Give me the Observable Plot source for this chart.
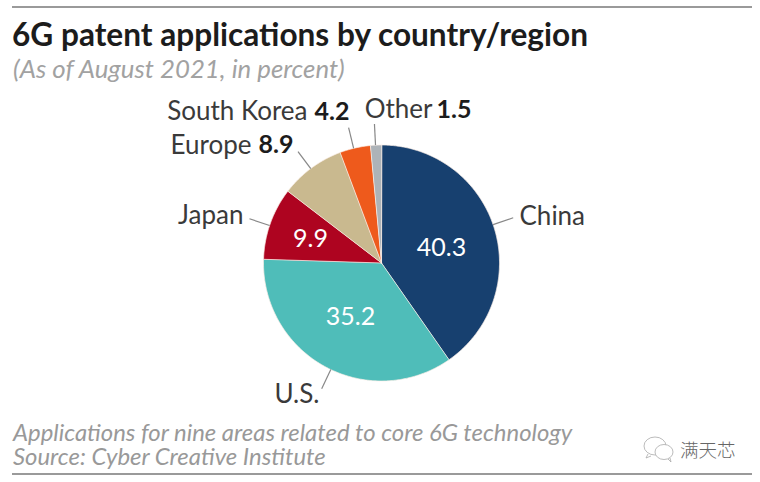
<!DOCTYPE html>
<html>
<head>
<meta charset="utf-8">
<script src="https://cdn.jsdelivr.net/npm/d3@7"></script>
<script src="https://cdn.jsdelivr.net/npm/@observablehq/plot@0.6"></script>
<style>
html,body{margin:0;padding:0;background:#fff;}
body{width:760px;height:482px;position:relative;overflow:hidden;font-family:Lato,sans-serif;}
.rule{position:absolute;left:12px;width:740px;height:2px;background:#9a9a9a;}
#title{position:absolute;left:12px;top:16px;font-size:31.6px;font-weight:700;color:#1c1c1c;white-space:nowrap;line-height:36px;}
#sub{position:absolute;left:13px;top:54px;font-size:25.8px;font-style:italic;color:#a2a2a2;white-space:nowrap;line-height:28px;}
#chart{position:absolute;left:0;top:90px;}
#note{position:absolute;left:13px;top:420px;font-size:23.9px;font-style:italic;color:#999;line-height:24px;white-space:nowrap;}
#mark{position:absolute;left:640px;top:434px;display:flex;align-items:center;gap:0;color:#666;font:300 18.5px "Noto Sans CJK SC",sans-serif;}
</style>
</head>
<body>
<div class="rule" style="top:6px"></div>
<div id="title">6G patent applications by country/region</div>
<div id="sub">(As of August 2021, in percent)</div>
<div id="chart"></div>
<div id="note">Applications for nine areas related to core 6G technology<br>Source: Cyber Creative Institute</div>
<div id="mark">
<svg width="40" height="30" viewBox="0 0 40 30" fill="none" stroke="#aaa" stroke-width="0.8"><ellipse cx="15" cy="12" rx="11" ry="9"/><ellipse cx="24" cy="18" rx="9" ry="7.5" fill="#fff"/><path d="M8 20l-2 4 5-2M28 25l3 3-1-4"/></svg>
<span>满天芯</span>
</div>
<div class="rule" style="top:473px;height:1.5px"></div>
<script>
const names = ["China", "U.S.", "Japan", "Europe", "South Korea", "Other"];
const shares = [40.3, 35.2, 9.9, 8.9, 4.2, 1.5];
const colors = ["#17406f", "#4fbdb9", "#ae0420", "#c9b98f", "#ee5a1c", "#adb3b8"];

// layout of the annotations: where each leader leaves the pie, in degrees from the slice's middle
const leaderShift = [-1.5, -3, -1.1, -0.3, -0.7, -0.2];
const leaderReach = 1.18;

const W = 760, H = 325, R = 118, cx = 381, cy = 172.5;

const pie = d3.pie().value(d => d).sort(null)(shares);
const polar = (a, r) => ({x: Math.sin(a) * r, y: Math.cos(a) * r});

const wedges = names.flatMap((name, i) => {
  const {startAngle: a0, endAngle: a1} = pie[i];
  const n = Math.ceil((a1 - a0) / 0.01);
  return [{name, ...polar(0, 0)}, ...d3.range(n + 1).map(k => ({name, ...polar(a0 + (a1 - a0) * k / n, 1)}))];
});

const leaders = names.map((name, i) => {
  const a = (pie[i].startAngle + pie[i].endAngle) / 2 + leaderShift[i] * Math.PI / 180;
  const p = polar(a, 1), q = polar(a, leaderReach);
  return {x1: p.x, y1: p.y, x2: q.x, y2: q.y};
});

// labels, placed by their spot on the page
const px = v => (v - cx) / R, py = v => (cy + 90 - v) / R;
const inside = [
  {t: shares[0].toFixed(1), x: px(441), y: py(247)},
  {t: shares[1].toFixed(1), x: px(350), y: py(316)},
  {t: shares[2].toFixed(1), x: px(310), y: py(238)}
];
const namesLeft = [
  {t: "U.S.", x: px(319), y: py(394)},
  {t: "Japan", x: px(243), y: py(215)},
  {t: "Europe", x: px(251), y: py(145)},
  {t: "South Korea", x: px(307), y: py(111)},
  {t: "Other", x: px(432), y: py(109)}
];
const namesRight = [{t: "China", x: px(519), y: py(216)}];
const boldValues = [
  {t: shares[3].toFixed(1), x: px(258), y: py(144)},
  {t: shares[4].toFixed(1), x: px(314), y: py(111)},
  {t: shares[5].toFixed(1), x: px(436), y: py(109)}
];

const chart = Plot.plot({
  width: W, height: H,
  margin: 0,
  x: {domain: [-cx / R, (W - cx) / R], range: [0, W], axis: null},
  y: {domain: [-(H - cy) / R, cy / R], range: [H, 0], axis: null},
  color: {domain: names, range: colors},
  marks: [
    Plot.line(wedges, {x: "x", y: "y", z: "name", fill: "name", stroke: "#fbeee6", strokeWidth: 0.7, curve: "linear-closed"}),
    Plot.link(leaders, {x1: "x1", y1: "y1", x2: "x2", y2: "y2", stroke: "#888", strokeWidth: 1.2}),
    Plot.text(inside, {x: "x", y: "y", text: "t", fill: "white", fontSize: 25, fontFamily: "Lato"}),
    Plot.text(namesLeft, {x: "x", y: "y", text: "t", textAnchor: "end", fill: "#3a3a3a", fontSize: 26, fontFamily: "Lato"}),
    Plot.text(namesRight, {x: "x", y: "y", text: "t", textAnchor: "start", fill: "#3a3a3a", fontSize: 26, fontFamily: "Lato"}),
    Plot.text(boldValues, {x: "x", y: "y", text: "t", textAnchor: "start", fill: "#1c1c1c", fontSize: 25, fontWeight: 700, fontFamily: "Lato"})
  ]
});
document.getElementById("chart").append(chart);
</script>
</body>
</html>
